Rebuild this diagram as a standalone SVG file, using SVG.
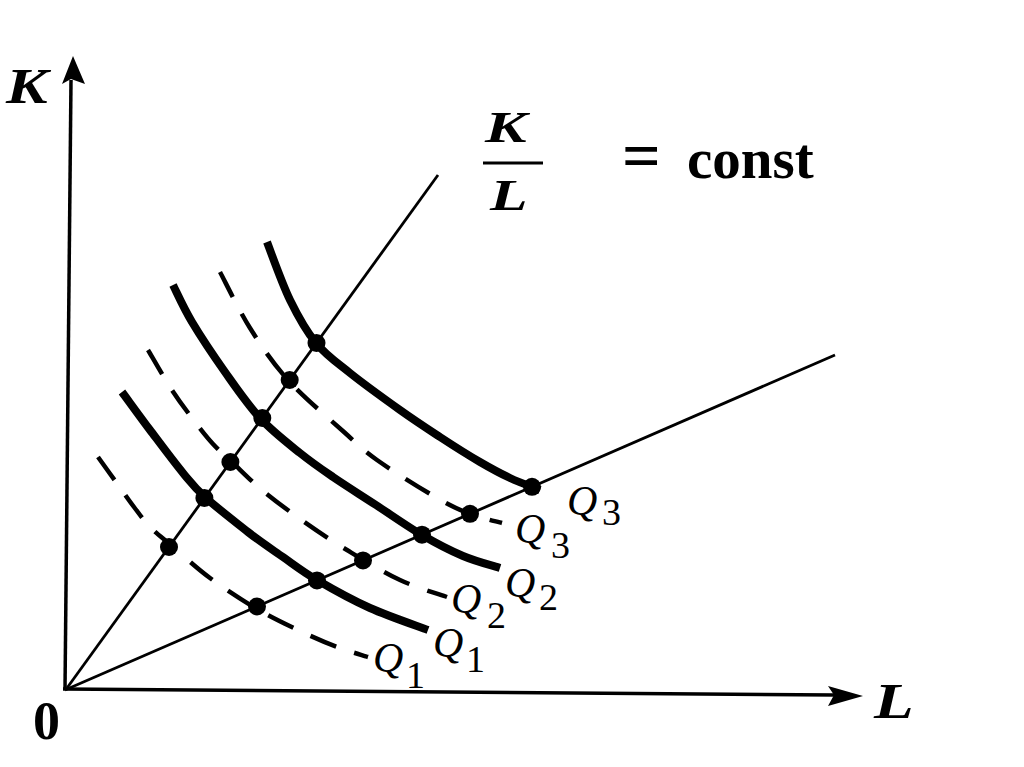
<svg xmlns="http://www.w3.org/2000/svg" width="1024" height="767" viewBox="0 0 1024 767">
<style>
.axis{stroke:#000;stroke-width:3.5;fill:none}
.ray{stroke:#000;stroke-width:2.8;fill:none}
.solid{stroke:#000;stroke-width:8;fill:none;stroke-linecap:butt}
.dash{stroke:#000;stroke-width:4.5;fill:none;stroke-dasharray:28 19}
.dot{fill:#000}
.lbl{font-family:"Liberation Serif","DejaVu Serif",serif;font-weight:bold;font-style:italic;fill:#000}
.q{font-family:"Liberation Serif","DejaVu Serif",serif;font-style:italic;font-size:42px;fill:#000}
.sub{font-style:normal;font-size:38px}
.txt{font-family:"Liberation Serif","DejaVu Serif",serif;font-weight:bold;fill:#000}
</style>
<rect width="1024" height="767" fill="#fff"/>
<g id="axes">
<line class="axis" x1="65" y1="690" x2="71" y2="80"/>
<polygon points="73,56 85,84 71,79 62,84" fill="#000"/>
<line class="axis" x1="63" y1="689" x2="835" y2="695"/>
<polygon points="863,696 828,706 834,695 828,686" fill="#000"/>
<text class="lbl" font-size="50" transform="translate(6,103) scale(1.25,1)">K</text>
<text class="txt" x="33" y="739" font-size="54">0</text>
<text class="lbl" font-size="50" transform="translate(874,718) scale(1.3,1)">L</text>
</g>
<g id="ratio-label">
<text class="lbl" font-size="44" transform="translate(485,142) scale(1.42,1)">K</text>
<line x1="483" y1="163" x2="543" y2="163" stroke="#000" stroke-width="3"/>
<text class="lbl" font-size="44" transform="translate(490,210) scale(1.4,1)">L</text>
<text class="txt" y="178"><tspan x="622" font-size="68">=</tspan><tspan x="687" font-size="57">const</tspan></text>
</g>
<g id="connectors">
<line id="ray-steep" class="ray" x1="67" y1="688" x2="438" y2="175"/>
<line id="ray-shallow" class="ray" x1="65" y1="690" x2="835" y2="355"/>
</g>
<g id="Q1-dashed">
<path class="dash" d="M98,457 C101,461.2 110,473.7 116,482 C122,490.3 128.3,499.5 134,507 C139.7,514.5 143.7,520.5 150,527 C156.3,533.5 162,537.5 172,546 C182,554.5 195.8,567.5 210,578 C224.2,588.5 242,600.2 257,609 C272,617.8 286.7,624.7 300,631 C313.3,637.3 325.7,642.7 337,647 C348.3,651.3 362.8,655.3 368,657"/>
<text class="q" x="373" y="672">Q<tspan class="sub" x="406" y="688">1</tspan></text>
</g>
<g id="Q1-solid">
<path class="solid" d="M122,392 C126.7,398.3 139.8,416.5 150,430 C160.2,443.5 173.7,461.7 183,473 C192.3,484.3 194.8,488 206,498 C217.2,508 235.2,521.8 248,532 C260.8,542.2 271.8,549.2 283,557 C294.2,564.8 302.5,571.5 317,580 C331.5,588.5 351.5,599.7 370,608 C388.5,616.3 418.3,626.3 428,630"/>
<text class="q" x="433" y="657">Q<tspan class="sub" x="466" y="672">1</tspan></text>
</g>
<g id="Q2-dashed">
<path class="dash" d="M148,350 C151.7,356.2 162.7,375.7 170,387 C177.3,398.3 184.8,408.5 192,418 C199.2,427.5 206.3,436.7 213,444 C219.7,451.3 223.8,454.3 232,462 C240.2,469.7 250.2,480.2 262,490 C273.8,499.8 288.8,511 303,521 C317.2,531 330.8,540.2 347,550 C363.2,559.8 383.3,572.2 400,580 C416.7,587.8 439.2,594.2 447,597"/>
<text class="q" x="451" y="613">Q<tspan class="sub" x="487" y="628">2</tspan></text>
</g>
<g id="Q2-solid">
<path class="solid" d="M173,285 C176.2,291.2 183.3,307.5 192,322 C200.7,336.5 213.7,356 225,372 C236.3,388 247.5,404.5 260,418 C272.5,431.5 287.8,443.2 300,453 C312.2,462.8 320.3,468.3 333,477 C345.7,485.7 361.2,495.3 376,505 C390.8,514.7 407.5,526.5 422,535 C436.5,543.5 450,550.5 463,556 C476,561.5 493.8,566 500,568"/>
<text class="q" x="505" y="597">Q<tspan class="sub" x="539" y="610">2</tspan></text>
</g>
<g id="Q3-dashed">
<path class="dash" d="M220,272 C225,281.3 238.7,310 250,328 C261.3,346 272.3,362.7 288,380 C303.7,397.3 329.2,418.7 344,432 C358.8,445.3 361.5,449 377,460 C392.5,471 421.5,489 437,498 C452.5,507 459.2,509.8 470,514 C480.8,518.2 496.7,521.5 502,523"/>
<text class="q" x="515" y="543">Q<tspan class="sub" x="551" y="558">3</tspan></text>
</g>
<g id="Q3-solid">
<path class="solid" d="M267,242 C270.8,251.7 281.8,283.2 290,300 C298.2,316.8 306,330.8 316,343 C326,355.2 336,361.8 350,373 C364,384.2 385,399.3 400,410 C415,420.7 426.7,428.3 440,437 C453.3,445.7 468.3,455.2 480,462 C491.7,468.8 500,473.3 510,478 C520,482.7 535,488 540,490"/>
<text class="q" x="567" y="515">Q<tspan class="sub" x="602" y="525">3</tspan></text>
</g>
<g id="dots">
<circle class="dot" cx="169" cy="547" r="9"/>
<circle class="dot" cx="204.4" cy="498" r="9"/>
<circle class="dot" cx="230.4" cy="462" r="9"/>
<circle class="dot" cx="262.3" cy="418" r="9"/>
<circle class="dot" cx="289.7" cy="380" r="9"/>
<circle class="dot" cx="316.5" cy="343" r="9"/>
<circle class="dot" cx="257" cy="606.5" r="9"/>
<circle class="dot" cx="317" cy="580.4" r="9"/>
<circle class="dot" cx="363" cy="560.4" r="9"/>
<circle class="dot" cx="422" cy="534.7" r="9"/>
<circle class="dot" cx="470" cy="513.8" r="9"/>
<circle class="dot" cx="532" cy="486.8" r="9"/>
</g>
</svg>
